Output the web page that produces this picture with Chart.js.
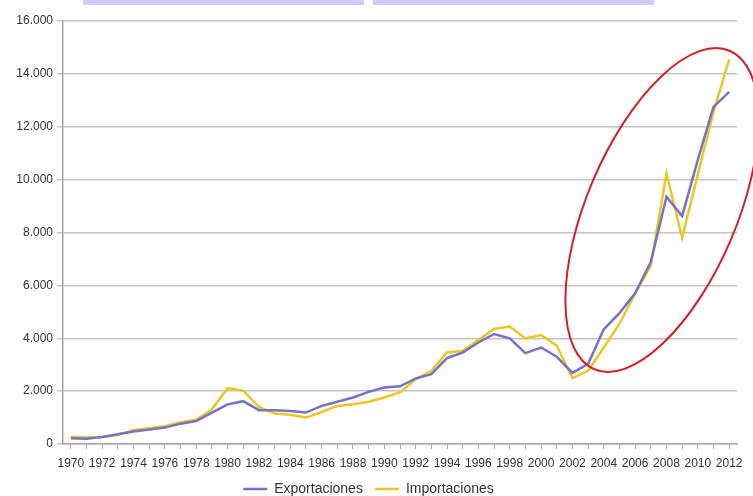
<!DOCTYPE html>
<html>
<head>
<meta charset="utf-8">
<script src="https://cdn.jsdelivr.net/npm/chart.js@4"></script>
<style>
  html, body { margin: 0; padding: 0; background: #ffffff; overflow: hidden; }
  #wrap { position: relative; width: 753px; height: 496px; overflow: hidden; }
  #c { position: absolute; left: 0; top: 0; }
  .topbar { position: absolute; top: 0; height: 5px; background: #ccccff; }
</style>
</head>
<body>
<div id="wrap">
  <canvas id="c" width="753" height="506"></canvas>
  <div class="topbar" style="left:83px;width:281px;"></div>
  <div class="topbar" style="left:373px;width:281px;"></div>
</div>
<script>
const years = [];
for (let y = 1970; y <= 2012; y++) years.push(String(y));

const exportaciones = [215, 200, 265, 370, 470, 545, 620, 770, 870, 1190,
  1500, 1620, 1280, 1280, 1250, 1190, 1440, 1600, 1760, 1970,
  2140, 2180, 2480, 2640, 3250, 3460, 3840, 4160, 4000, 3440,
  3650, 3300, 2690, 3030, 4340, 4950, 5700, 6880, 9350, 8620,
  10750, 12750, 13320];

const importaciones = [265, 250, 265, 340, 530, 600, 670, 820, 920, 1310,
  2110, 2020, 1400, 1150, 1110, 1000, 1210, 1440, 1500, 1600,
  1760, 1950, 2450, 2770, 3460, 3530, 3930, 4350, 4440, 3990,
  4120, 3720, 2490, 2770, 3640, 4550, 5690, 6750, 10230, 7800,
  10200, 12560, 14550];

const yTicks = [0, 2000, 4000, 6000, 8000, 10000, 12000, 14000, 16000];

const FONT = "'Liberation Sans', Arial, sans-serif";

const ellipsePlugin = {
  id: 'ellipse',
  afterDraw(chart) {
    const ctx = chart.ctx;
    ctx.save();
    ctx.strokeStyle = '#d41f26';
    ctx.lineWidth = 2;
    ctx.beginPath();
    ctx.ellipse(662, 210, 75, 173, 23 * Math.PI / 180, 0, Math.PI * 2);
    ctx.stroke();
    ctx.restore();
  }
};

new Chart(document.getElementById('c'), {
  type: 'line',
  data: {
    labels: years,
    datasets: [
      { label: 'Exportaciones', data: exportaciones, borderColor: '#7673c6', backgroundColor: '#7673c6',
        borderWidth: 2.5, pointRadius: 0, tension: 0, pointStyle: 'line' },
      { label: 'Importaciones', data: importaciones, borderColor: '#e9c824', backgroundColor: '#e9c824',
        borderWidth: 2.5, pointRadius: 0, tension: 0, pointStyle: 'line' }
    ]
  },
  options: {
    responsive: false,
    animation: false,
    devicePixelRatio: 1,
    layout: { padding: { top: 21, right: 16, left: 0, bottom: 0 } },
    plugins: {
      legend: {
        position: 'bottom',
        labels: {
          usePointStyle: true,
          pointStyleWidth: 24,
          font: { family: FONT, size: 14 },
          color: '#333333',
          padding: 12,
          boxHeight: 10
        }
      },
      tooltip: { enabled: false }
    },
    scales: {
      x: {
        type: 'category',
        offset: true,
        grid: { drawOnChartArea: false, drawTicks: true, tickLength: 5, color: '#a6a6a6', offset: false },
        border: { color: '#a6a6a6', width: 1.5 },
        ticks: {
          autoSkip: false, maxRotation: 0, minRotation: 0, padding: 7,
          font: { family: FONT, size: 12 }, color: '#333333',
          callback: function(v, i) { return i % 2 === 0 ? years[i] : ''; }
        },
        afterFit(scale) { scale.height = 26; }
      },
      y: {
        min: 0, max: 16000,
        afterBuildTicks(scale) { scale.ticks = yTicks.map(v => ({ value: v })); },
        grid: { color: '#c4c4c4', lineWidth: 1.5, tickLength: 6, drawTicks: true },
        border: { color: '#a6a6a6', width: 1.5 },
        ticks: {
          font: { family: FONT, size: 12 }, color: '#333333', padding: 4,
          callback: function(v) { return v === 0 ? '0' : v.toLocaleString('de-DE'); }
        },
        afterFit(scale) { scale.width = 63; }
      }
    }
  },
  plugins: [ellipsePlugin]
});
</script>
</body>
</html>
